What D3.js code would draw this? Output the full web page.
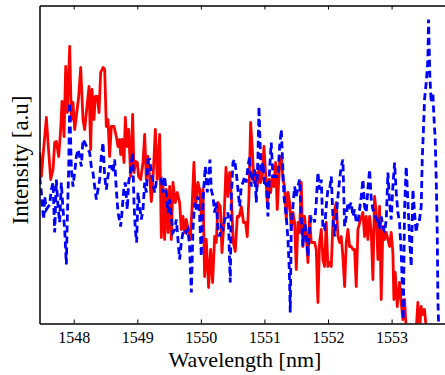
<!DOCTYPE html>
<html>
<head>
<meta charset="utf-8">
<script src="https://cdn.jsdelivr.net/npm/d3@7"></script>
<style>
  html, body { margin: 0; padding: 0; background: #fff; }
  svg { display: block; }
</style>
</head>
<body>
<div id="chart"></div>
<script>
// wavelength [nm], intensity [a.u.]
const redTrace = [
  [1547.465,171],[1547.491,147],[1547.517,167],[1547.570,206],[1547.596,181],[1547.638,144],[1547.675,154],[1547.701,181],
  [1547.727,182],[1547.764,167],[1547.795,194],[1547.816,222],[1547.848,187],[1547.874,257],[1547.900,211],[1547.937,277],
  [1547.963,204],[1547.989,221],[1548.015,194],[1548.041,207],[1548.078,227],[1548.110,256],[1548.146,204],[1548.172,194],
  [1548.199,211],[1548.241,237],[1548.267,174],[1548.288,234],[1548.319,204],[1548.340,227],[1548.372,227],[1548.398,211],
  [1548.424,251],[1548.461,256],[1548.487,254],[1548.513,197],[1548.539,204],[1548.565,167],[1548.592,197],[1548.634,197],
  [1548.670,187],[1548.697,177],[1548.723,184],[1548.738,169],[1548.759,184],[1548.791,161],[1548.812,206],[1548.838,177],
  [1548.864,194],[1548.896,147],[1548.927,209],[1548.948,151],[1548.974,162],[1549.001,161],[1549.021,147],[1549.053,144],
  [1549.090,161],[1549.116,189],[1549.142,144],[1549.168,167],[1549.194,147],[1549.221,122],[1549.247,144],[1549.284,194],
  [1549.315,144],[1549.352,189],[1549.378,86],[1549.404,137],[1549.430,84],[1549.456,134],[1549.483,91],[1549.509,137],
  [1549.535,84],[1549.561,141],[1549.598,121],[1549.629,131],[1549.666,121],[1549.692,94],[1549.719,107],[1549.745,91],
  [1549.771,104],[1549.808,91],[1549.834,84],[1549.860,114],[1549.891,161],[1549.918,117],[1549.954,141],[1549.981,134],
  [1550.007,107],[1550.033,134],[1550.059,47],[1550.085,84],[1550.122,36],[1550.154,74],[1550.185,41],[1550.217,87],
  [1550.243,81],[1550.269,121],[1550.306,117],[1550.332,71],[1550.363,101],[1550.395,156],[1550.426,127],[1550.452,151],
  [1550.479,127],[1550.510,81],[1550.541,72],[1550.573,107],[1550.604,107],[1550.636,117],[1550.672,101],[1550.704,101],
  [1550.730,87],[1550.756,127],[1550.783,201],[1550.809,174],[1550.835,141],[1550.861,151],[1550.887,137],[1550.914,157],
  [1550.940,141],[1550.966,147],[1550.992,177],[1551.018,151],[1551.045,121],[1551.071,144],[1551.097,131],[1551.123,147],
  [1551.149,137],[1551.176,161],[1551.202,114],[1551.239,161],[1551.265,167],[1551.291,144],[1551.317,137],[1551.343,104],
  [1551.370,131],[1551.396,121],[1551.422,94],[1551.448,111],[1551.474,101],[1551.501,54],[1551.527,101],[1551.553,91],
  [1551.579,141],[1551.605,77],[1551.632,107],[1551.658,87],[1551.684,61],[1551.710,107],[1551.736,81],[1551.763,81],
  [1551.789,81],[1551.815,74],[1551.841,21],[1551.867,81],[1551.894,94],[1551.920,64],[1551.946,57],[1551.972,101],
  [1551.998,57],[1552.025,61],[1552.051,57],[1552.077,101],[1552.103,114],[1552.130,121],[1552.156,87],[1552.182,81],
  [1552.208,87],[1552.234,67],[1552.261,37],[1552.287,81],[1552.313,94],[1552.339,77],[1552.365,77],[1552.392,74],
  [1552.418,74],[1552.444,37],[1552.470,94],[1552.512,104],[1552.549,111],[1552.575,87],[1552.601,107],[1552.627,84],
  [1552.654,107],[1552.680,91],[1552.706,44],[1552.732,127],[1552.758,111],[1552.785,64],[1552.811,117],[1552.837,24],
  [1552.863,97],[1552.889,84],[1552.916,91],[1552.942,84],[1552.968,77],[1552.994,91],[1553.020,71],[1553.036,24],
  [1553.057,51],[1553.089,17],[1553.125,41],[1553.151,21],[1553.178,4],[1553.204,24],[1553.230,-6],[1553.309,-16],
  [1553.387,-6],[1553.413,21],[1553.440,-6],[1553.466,17],[1553.492,9],[1553.518,14],[1553.545,-6],[1553.597,-16],
  [1553.760,-16]
];

const blueTrace = [
  [1547.465,146],[1547.491,131],[1547.507,117],[1547.528,104],[1547.543,127],[1547.570,114],[1547.622,119],[1547.648,134],
  [1547.675,141],[1547.701,91],[1547.727,144],[1547.753,117],[1547.779,101],[1547.805,141],[1547.832,114],[1547.858,94],
  [1547.884,59],[1547.900,107],[1547.921,154],[1547.937,221],[1547.963,154],[1547.989,137],[1548.015,151],[1548.041,167],
  [1548.068,174],[1548.094,167],[1548.120,157],[1548.146,184],[1548.172,181],[1548.225,174],[1548.251,171],[1548.277,157],
  [1548.303,151],[1548.330,137],[1548.356,124],[1548.382,134],[1548.408,144],[1548.434,167],[1548.461,181],[1548.487,147],
  [1548.513,134],[1548.539,147],[1548.565,157],[1548.592,157],[1548.618,151],[1548.644,164],[1548.670,134],[1548.697,111],
  [1548.738,97],[1548.759,111],[1548.791,137],[1548.812,141],[1548.843,114],[1548.864,141],[1548.896,154],[1548.927,171],
  [1548.948,121],[1548.969,94],[1548.990,81],[1549.011,131],[1549.037,117],[1549.063,104],[1549.090,114],[1549.116,141],
  [1549.142,131],[1549.168,164],[1549.194,164],[1549.221,151],[1549.247,141],[1549.273,131],[1549.299,141],[1549.325,141],
  [1549.352,142],[1549.378,144],[1549.404,131],[1549.430,147],[1549.456,131],[1549.483,111],[1549.509,124],[1549.535,107],
  [1549.561,91],[1549.588,94],[1549.614,104],[1549.640,84],[1549.666,64],[1549.692,81],[1549.719,91],[1549.745,94],
  [1549.771,91],[1549.797,94],[1549.823,77],[1549.850,31],[1549.876,94],[1549.902,121],[1549.928,114],[1549.954,127],
  [1549.981,107],[1550.007,67],[1550.017,94],[1550.044,134],[1550.070,157],[1550.101,131],[1550.122,147],[1550.143,164],
  [1550.164,134],[1550.190,127],[1550.217,111],[1550.243,121],[1550.269,94],[1550.295,87],[1550.321,97],[1550.348,94],
  [1550.374,104],[1550.400,107],[1550.426,111],[1550.442,87],[1550.452,61],[1550.463,41],[1550.479,127],[1550.505,161],
  [1550.531,164],[1550.557,151],[1550.583,134],[1550.610,117],[1550.636,137],[1550.662,141],[1550.688,147],[1550.714,141],
  [1550.741,157],[1550.767,167],[1550.793,137],[1550.819,147],[1550.845,154],[1550.872,121],[1550.898,167],[1550.914,217],
  [1550.929,184],[1550.950,151],[1550.977,161],[1551.003,137],[1551.029,141],[1551.055,107],[1551.081,154],[1551.107,181],
  [1551.134,147],[1551.160,147],[1551.186,147],[1551.212,147],[1551.239,177],[1551.265,194],[1551.286,161],[1551.307,127],
  [1551.343,107],[1551.370,84],[1551.391,54],[1551.406,11],[1551.422,101],[1551.448,117],[1551.474,137],[1551.501,127],
  [1551.527,137],[1551.553,144],[1551.579,107],[1551.605,77],[1551.632,101],[1551.658,91],[1551.684,67],[1551.710,97],
  [1551.736,107],[1551.763,107],[1551.789,101],[1551.815,121],[1551.841,151],[1551.867,134],[1551.894,144],[1551.920,94],
  [1551.946,94],[1551.972,117],[1551.998,134],[1552.025,134],[1552.051,147],[1552.077,107],[1552.103,87],[1552.130,107],
  [1552.156,127],[1552.182,144],[1552.208,157],[1552.234,164],[1552.261,97],[1552.287,107],[1552.313,121],[1552.339,117],
  [1552.365,121],[1552.392,107],[1552.418,114],[1552.444,101],[1552.470,101],[1552.496,114],[1552.523,127],[1552.549,144],
  [1552.575,117],[1552.601,111],[1552.627,134],[1552.654,154],[1552.680,124],[1552.706,114],[1552.732,111],[1552.758,104],
  [1552.785,107],[1552.811,94],[1552.837,107],[1552.863,97],[1552.889,91],[1552.916,104],[1552.942,151],[1552.968,121],
  [1552.994,104],[1553.020,137],[1553.047,161],[1553.073,131],[1553.099,111],[1553.125,101],[1553.151,71],[1553.167,41],
  [1553.183,4],[1553.204,114],[1553.230,157],[1553.257,121],[1553.283,84],[1553.309,57],[1553.335,134],[1553.361,111],
  [1553.387,91],[1553.413,104],[1553.440,104],[1553.466,117],[1553.482,164],[1553.503,197],[1553.518,224],[1553.545,241],
  [1553.571,264],[1553.581,304],[1553.602,247],[1553.623,221],[1553.649,231],[1553.665,207],[1553.686,184],[1553.702,144],
  [1553.718,91],[1553.728,24],[1553.739,1],[1553.760,-6]
];

const xTicks = [1548, 1549, 1550, 1551, 1552, 1553];
const xDomain = [1547.462, 1553.84];
const yDomain = [0, 318];
const xTitle = 'Wavelength [nm]';
const yTitle = 'Intensity [a.u]';

const width = 445, height = 375;
const plot = {left: 39.5, right: 445, top: 5.5, bottom: 323.5};

const svg = d3.select('#chart').append('svg')
  .attr('width', width).attr('height', height);

const x = d3.scaleLinear().domain(xDomain).range([plot.left, plot.right]);
const y = d3.scaleLinear().domain(yDomain).range([plot.bottom, plot.top]);

svg.append('clipPath').attr('id', 'clip')
  .append('rect')
  .attr('x', plot.left).attr('y', plot.top)
  .attr('width', plot.right - plot.left).attr('height', plot.bottom - plot.top);

const line = d3.line().x(d => x(d[0])).y(d => y(d[1]));

const lines = svg.append('g').attr('clip-path', 'url(#clip)');
lines.append('path').datum(redTrace)
  .attr('d', line)
  .attr('fill', 'none').attr('stroke', '#ff0000')
  .attr('stroke-width', 2.8).attr('stroke-linejoin', 'round');
lines.append('path').datum(blueTrace)
  .attr('d', line)
  .attr('fill', 'none').attr('stroke', '#0000ff')
  .attr('stroke-width', 2.8).attr('stroke-dasharray', '7,4');

const font = '"Liberation Serif", "Times New Roman", serif';

// bottom axis, ticks pointing inward
const xAxis = svg.append('g')
  .attr('transform', 'translate(0,' + plot.bottom + ')')
  .call(d3.axisBottom(x).tickValues(xTicks).tickFormat(d3.format('d'))
    .tickSize(-4).tickSizeOuter(0).tickPadding(8));
// top border with mirrored ticks
const xTop = svg.append('g')
  .attr('transform', 'translate(0,' + plot.top + ')')
  .call(d3.axisTop(x).tickValues(xTicks).tickFormat('')
    .tickSize(-4).tickSizeOuter(0));
// left border only
const yAxis = svg.append('g')
  .attr('transform', 'translate(' + plot.left + ',0)')
  .call(d3.axisLeft(y).tickValues([]).tickSizeOuter(0));

[xAxis, xTop, yAxis].forEach(g => {
  g.select('.domain').attr('stroke', '#000').attr('stroke-width', 1.5);
  g.selectAll('.tick line').attr('stroke', '#000').attr('stroke-width', 1);
});
xAxis.selectAll('.tick text')
  .attr('font-family', font).attr('font-size', 16).attr('fill', '#000');

svg.append('text')
  .attr('x', 245).attr('y', 367)
  .attr('text-anchor', 'middle')
  .attr('font-family', font).attr('font-size', 22)
  .text(xTitle);

svg.append('text')
  .attr('transform', 'translate(28,160) rotate(-90)')
  .attr('text-anchor', 'middle')
  .attr('font-family', font).attr('font-size', 23)
  .text(yTitle);
</script>
</body>
</html>
